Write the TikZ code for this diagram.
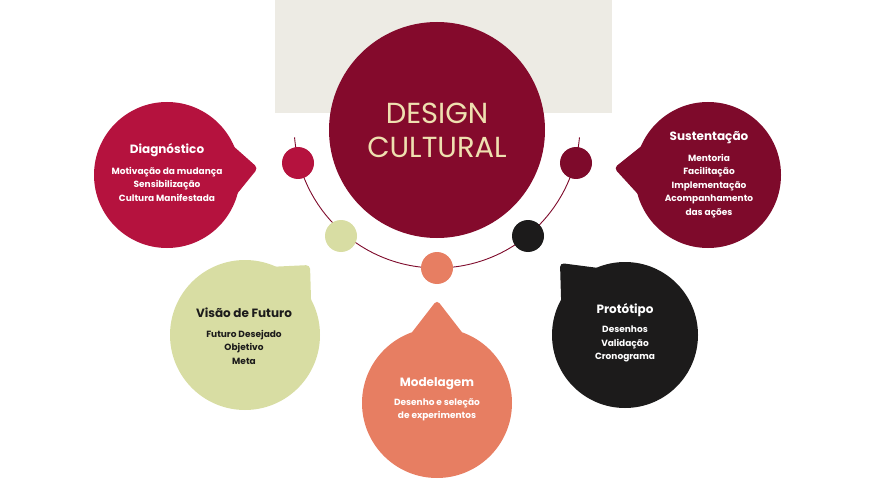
\documentclass[tikz,border=0pt]{standalone}
\usepackage{fontspec}
\setmainfont{Poppins}
\usetikzlibrary{calc}
\definecolor{crim}{HTML}{B5123E}
\definecolor{maroon}{HTML}{7E0A2B}
\definecolor{bigc}{HTML}{840A2C}
\definecolor{sage}{HTML}{D8DDA3}
\definecolor{salmon}{HTML}{E77E62}
\definecolor{blk}{HTML}{1C1B1B}
\definecolor{beige}{HTML}{EDEBE4}
\definecolor{gold}{HTML}{EFE0B0}
\tikzset{
 head/.style={font=\bfseries\fontsize{12}{14}\selectfont},
 body/.style={font=\fontsize{9}{13.5}\selectfont\bfseries,align=center},
 dot/.style={circle,minimum size=32pt,inner sep=0pt},
}
\newcommand{\bubble}[6]{% name, center, r, angle, tip, color
 \fill[#6] (#2) circle (#3pt);
 \fill[#6,rounded corners=4pt] ($(#2)+(#4-22:#3pt-2pt)$) -- (#5) -- ($(#2)+(#4+22:#3pt-2pt)$) -- cycle;
 \coordinate (#1) at (#2);
}
\begin{document}
\begin{tikzpicture}[x=1pt,y=-1pt]
\useasboundingbox (0,0) rectangle (873,492);
\fill[beige] (275,0) rectangle (612,113);
\draw[maroon,line width=0.9pt] (437,125) ++(185:143pt) arc[start angle=185,end angle=355,radius=143pt];
\node[dot,fill=crim] (d1) at (298,163) {};
\node[dot,fill=sage] (d2) at (341,236) {};
\node[dot,fill=salmon] (d3) at (437,268) {};
\node[dot,fill=blk] (d4) at (528,236) {};
\node[dot,fill=maroon] (d5) at (576,163) {};
\node[circle,fill=bigc,minimum size=216pt,inner sep=0pt,text=gold,align=center,
 font=\fontsize{29}{34}\selectfont] (main) at (437,130) {DESIGN\\CULTURAL};
\bubble{b1}{167,175}{73}{4}{258,168}{crim}
\bubble{b2}{708,175}{73}{176}{614,168}{maroon}
\bubble{b3}{245,335}{75}{47}{310,265}{sage}
\bubble{b4}{437,403}{75}{90}{437,300}{salmon}
\bubble{b5}{625,335}{73}{132}{560,263}{blk}
\node[head,text=white] (t1) at (167,150) {Diagnóstico};
\node[body,text=white] (x1) at (167,184) {Motivação da mudança\\Sensibilização\\Cultura Manifestada};
\node[head,text=white] (t2) at (709,138) {Sustentação};
\node[body,text=white] (x2) at (709,186) {Mentoria\\Facilitação\\Implementação\\Acompanhamento\\das ações};
\node[head,text=blk] (t3) at (244,313) {Visão de Futuro};
\node[body,text=blk] (x3) at (244,347) {Futuro Desejado\\Objetivo\\Meta};
\node[head,text=white] (t4) at (437,384) {Modelagem};
\node[body,text=white] (x4) at (437,410) {Desenho e seleção\\de experimentos};
\node[head,text=white] (t5) at (625,310) {Protótipo};
\node[body,text=white] (x5) at (625,344) {Desenhos\\Validação\\Cronograma};
\end{tikzpicture}
\end{document}
